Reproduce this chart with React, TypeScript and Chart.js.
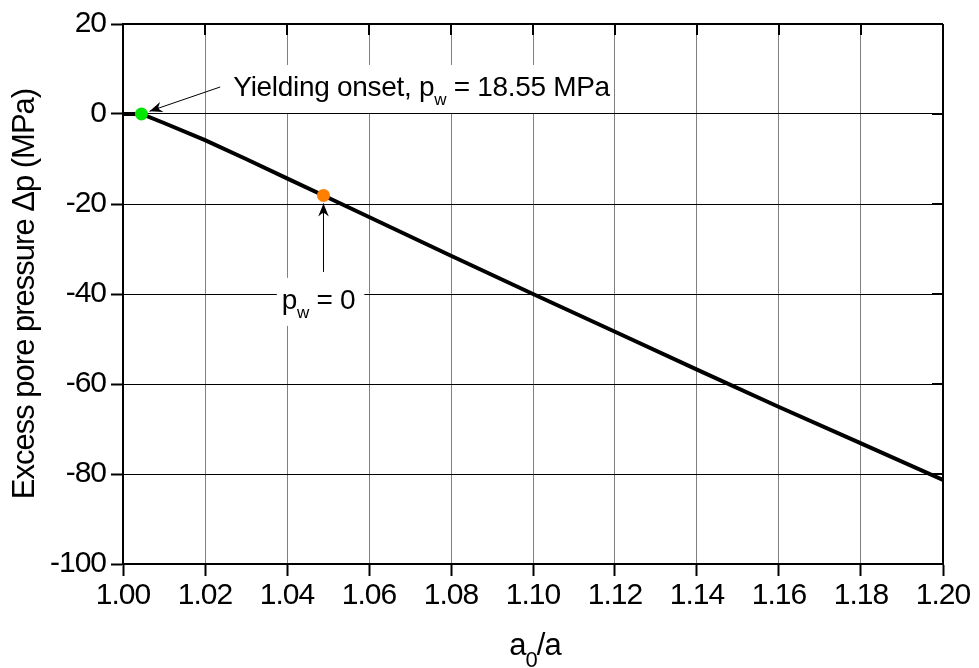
import React, { useEffect, useRef } from "react";
import { Chart, registerables } from "chart.js";

Chart.register(...registerables);

// ---- data ----
const ratioA0A = [1.0, 1.0045, 1.01, 1.02, 1.03, 1.04, 1.0489, 1.06, 1.08, 1.1, 1.12, 1.14, 1.16, 1.18, 1.2];
const excessPorePressure = [0, 0, -2.0, -5.8, -10.0, -14.3, -18.1, -22.9, -31.5, -40.0, -48.4, -56.8, -65.1, -73.2, -81.3];
const yieldingOnset = [{ x: 1.0045, y: 0 }];
const pwZero = [{ x: 1.0489, y: -18.1 }];
const xRange = [1.0, 1.2];
const xStep = 0.02;
const yRange = [-100, 20];
const yStep = 20;

const FONT = "'Liberation Sans', Arial, sans-serif";

type Part = { t: string; sub?: boolean };

function drawRich(ctx: CanvasRenderingContext2D, parts: Part[], x: number, y: number, align: "left" | "center", mainSize: number, subSize: number, subDy: number) {
  const widths = parts.map((p) => {
    ctx.font = `${p.sub ? subSize : mainSize}px ${FONT}`;
    return ctx.measureText(p.t).width;
  });
  const total = widths.reduce((a, b) => a + b, 0);
  let cx = align === "center" ? x - total / 2 : x;
  ctx.textAlign = "left";
  ctx.textBaseline = "alphabetic";
  ctx.fillStyle = "#000";
  parts.forEach((p, i) => {
    ctx.font = `${p.sub ? subSize : mainSize}px ${FONT}`;
    ctx.fillText(p.t, cx, y + (p.sub ? subDy : 0));
    cx += widths[i];
  });
  return { left: align === "center" ? x - total / 2 : x, width: total };
}

function measureRich(ctx: CanvasRenderingContext2D, parts: Part[], mainSize: number, subSize: number) {
  let w = 0;
  parts.forEach((p) => {
    ctx.font = `${p.sub ? subSize : mainSize}px ${FONT}`;
    w += ctx.measureText(p.t).width;
  });
  return w;
}

function drawArrow(ctx: CanvasRenderingContext2D, x0: number, y0: number, x1: number, y1: number) {
  const ang = Math.atan2(y1 - y0, x1 - x0);
  const len = 13;
  const half = 5.3;
  ctx.save();
  ctx.strokeStyle = "#000";
  ctx.fillStyle = "#000";
  ctx.lineWidth = 1;
  ctx.beginPath();
  ctx.moveTo(x0, y0);
  ctx.lineTo(x1, y1);
  ctx.stroke();
  const bx = x1 - Math.cos(ang) * len;
  const by = y1 - Math.sin(ang) * len;
  const nx = -Math.sin(ang);
  const ny = Math.cos(ang);
  const notchX = x1 - Math.cos(ang) * len * 0.75;
  const notchY = y1 - Math.sin(ang) * len * 0.75;
  ctx.beginPath();
  ctx.moveTo(x1, y1);
  ctx.lineTo(bx + nx * half, by + ny * half);
  ctx.lineTo(notchX + nx * 1.2, notchY + ny * 1.2);
  ctx.lineTo(notchX - nx * 1.2, notchY - ny * 1.2);
  ctx.lineTo(bx - nx * half, by - ny * half);
  ctx.closePath();
  ctx.fill();
  ctx.restore();
}

const yieldParts: Part[] = [{ t: "Yielding onset, p" }, { t: "w", sub: true }, { t: " = 18.55 MPa" }];
const pwParts: Part[] = [{ t: "p" }, { t: "w", sub: true }, { t: " = 0" }];

// annotation anchors in data units
const yieldLabelAt = { x: 1.0269, y: 4.0 };
const yieldArrowTail = { x: 1.0237, y: 6.0 };
const pwLabelAt = { x: 1.0477, y: -43.3 };
const pwArrowTail = { x: 1.0489, y: -35.1 };

const annotationPlugin = {
  id: "annotations",
  beforeDraw(chart: any) {
    (chart.ctx as any).letterSpacing = "-1px";
  },
  beforeDatasetsDraw(chart: any) {
    const ctx = chart.ctx as CanvasRenderingContext2D;
    const xs = chart.scales.x;
    const ys = chart.scales.y;
    ctx.save();
    (ctx as any).letterSpacing = "-0.3px";
    ctx.fillStyle = "#fff";
    const yw = measureRich(ctx, yieldParts, 28, 17);
    const ylx = xs.getPixelForValue(yieldLabelAt.x);
    const yly = ys.getPixelForValue(yieldLabelAt.y);
    ctx.fillRect(ylx - 5, yly - 31, yw + 9, 48);
    const pw = measureRich(ctx, pwParts, 28, 17);
    const plx = xs.getPixelForValue(pwLabelAt.x);
    const ply = ys.getPixelForValue(pwLabelAt.y);
    ctx.fillRect(plx - pw / 2 - 5, ply - 31, pw + 14, 48);
    ctx.restore();
  },
  afterDatasetsDraw(chart: any) {
    const ctx = chart.ctx as CanvasRenderingContext2D;
    const xs = chart.scales.x;
    const ys = chart.scales.y;
    const { left, right, top, bottom } = chart.chartArea;
    ctx.save();
    ctx.strokeStyle = "#000";
    ctx.lineWidth = 2;
    ctx.beginPath();
    ctx.moveTo(left, top);
    ctx.lineTo(right, top);
    ctx.moveTo(right, top);
    ctx.lineTo(right, bottom);
    ctx.stroke();
    ctx.beginPath();
    xs.ticks.forEach((t: any) => {
      const px = Math.round(xs.getPixelForValue(t.value));
      ctx.moveTo(px, top);
      ctx.lineTo(px, top + 11);
    });
    ys.ticks.forEach((t: any) => {
      const py = Math.round(ys.getPixelForValue(t.value));
      ctx.moveTo(right, py);
      ctx.lineTo(right - 11, py);
    });
    ctx.stroke();

    (ctx as any).letterSpacing = "-0.3px";
    drawRich(ctx, yieldParts, xs.getPixelForValue(yieldLabelAt.x), ys.getPixelForValue(yieldLabelAt.y), "left", 28, 17, 9);
    {
      const px = xs.getPixelForValue(yieldingOnset[0].x);
      const py = ys.getPixelForValue(yieldingOnset[0].y);
      const tx = xs.getPixelForValue(yieldArrowTail.x);
      const ty = ys.getPixelForValue(yieldArrowTail.y);
      const d = Math.hypot(tx - px, ty - py);
      const off = 8.5;
      drawArrow(ctx, tx, ty, px + ((tx - px) / d) * off, py + ((ty - py) / d) * off);
    }
    drawRich(ctx, pwParts, xs.getPixelForValue(pwLabelAt.x), ys.getPixelForValue(pwLabelAt.y), "center", 28, 17, 9);
    {
      const px = xs.getPixelForValue(pwZero[0].x);
      const py = ys.getPixelForValue(pwZero[0].y);
      const tx = xs.getPixelForValue(pwArrowTail.x);
      const ty = ys.getPixelForValue(pwArrowTail.y);
      drawArrow(ctx, tx, ty, px, py + 8);
    }
    (ctx as any).letterSpacing = "-1px";
    drawRich(ctx, [{ t: "a" }, { t: "0", sub: true }, { t: "/a" }], (left + right) / 2 + 2, 655, "center", 31, 22, 12);
    ctx.restore();
  },
};

export default function App() {
  const ref = useRef<HTMLCanvasElement | null>(null);
  useEffect(() => {
    if (!ref.current) return;
    const chart = new Chart(ref.current, {
      type: "scatter",
      data: {
        datasets: [
          {
            label: "Yielding onset",
            data: yieldingOnset,
            pointRadius: 6.5,
            pointBackgroundColor: "#00e600",
            pointBorderWidth: 0,
            showLine: false,
            order: 0,
          },
          {
            label: "pw = 0",
            data: pwZero,
            pointRadius: 6.5,
            pointBackgroundColor: "#ff8000",
            pointBorderWidth: 0,
            showLine: false,
            order: 0,
          },
          {
            label: "curve",
            data: ratioA0A.map((x, i) => ({ x, y: excessPorePressure[i] })),
            showLine: true,
            borderColor: "#000",
            borderWidth: 4,
            pointRadius: 0,
            tension: 0,
            fill: false,
            order: 1,
          },
        ],
      },
      options: {
        responsive: false,
        animation: false,
        devicePixelRatio: 1,
        layout: { padding: { left: 0, top: 24, right: 36, bottom: 0 } },
        plugins: { legend: { display: false }, tooltip: { enabled: false } },
        scales: {
          x: {
            type: "linear",
            min: xRange[0],
            max: xRange[1],
            afterFit: (s: any) => {
              s.height = 104;
            },
            ticks: {
              stepSize: xStep,
              color: "#000",
              font: { family: FONT, size: 30 },
              padding: 2,
              callback: (v: any) => Number(v).toFixed(2),
              maxRotation: 0,
              autoSkip: false,
            },
            grid: {
              color: "#808080",
              lineWidth: 1,
              drawTicks: true,
              tickLength: 12,
              tickColor: "#000",
              tickWidth: 2,
            },
            border: { color: "#000", width: 2 },
          },
          y: {
            type: "linear",
            min: yRange[0],
            max: yRange[1],
            afterFit: (s: any) => {
              s.width = 123;
            },
            ticks: {
              stepSize: yStep,
              color: "#000",
              font: { family: FONT, size: 30 },
              padding: 5,
            },
            grid: {
              color: "#000",
              lineWidth: 1,
              drawTicks: true,
              tickLength: 12,
              tickColor: "#000",
              tickWidth: 2,
            },
            border: { color: "#000", width: 2 },
            title: {
              display: true,
              text: "Excess pore pressure \u0394p (MPa)",
              color: "#000",
              font: { family: FONT, size: 31 },
              padding: { top: 7, bottom: 0 },
            },
          },
        },
      },
      plugins: [annotationPlugin],
    });
    return () => chart.destroy();
  }, []);
  return (
    <div style={{ position: "fixed", left: 0, top: 0, width: 979, height: 668, background: "#fff" }}>
      <canvas ref={ref} width={979} height={668} style={{ width: 979, height: 668, display: "block" }} />
    </div>
  );
}
